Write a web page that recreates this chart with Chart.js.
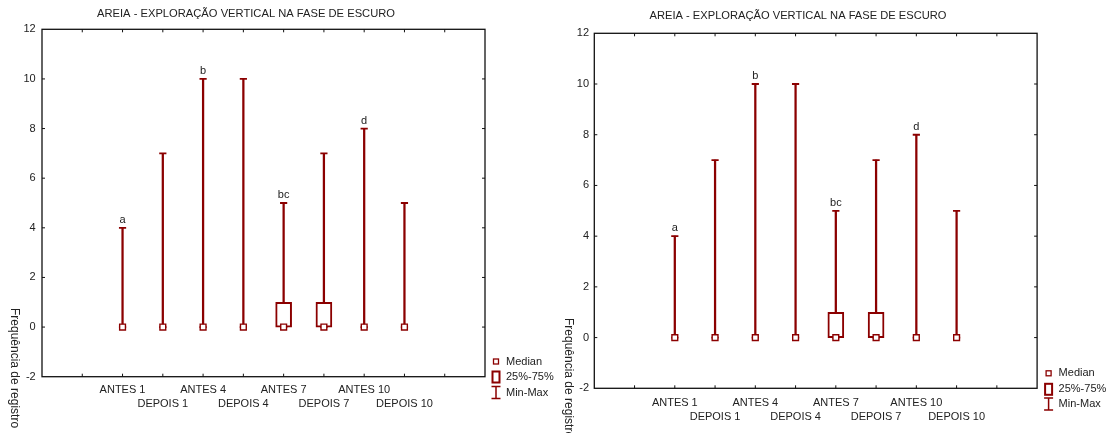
<!DOCTYPE html>
<html>
<head>
<meta charset="utf-8">
<script src="https://cdn.jsdelivr.net/npm/chart.js@4.4.1/dist/chart.umd.min.js"></script>
<style>
  html, body { margin: 0; padding: 0; background: #fff; }
  #wrap { position: relative; width: 1115px; height: 433px; overflow: hidden; }
  .pane { position: absolute; top: 0; }
</style>
</head>
<body>
<div id="wrap">
  <div class="pane" style="left:0px;"><canvas id="c1" width="555" height="433"></canvas></div>
  <div class="pane" style="left:555px;"><canvas id="c2" width="560" height="433"></canvas></div>
</div>
<script>
// ---------- data ----------
const chartTitle = 'AREIA - EXPLORAÇÃO VERTICAL NA FASE DE ESCURO';
const yAxisTitle = 'Frequência de registro';
const categories = ['ANTES 1', 'DEPOIS 1', 'ANTES 4', 'DEPOIS 4', 'ANTES 7', 'DEPOIS 7', 'ANTES 10', 'DEPOIS 10'];
const minVals    = [0, 0, 0, 0, 0, 0, 0, 0];
const maxVals    = [4, 7, 10, 10, 5, 7, 8, 5];
const q1Vals     = [0, 0, 0, 0, 0, 0, 0, 0];
const q3Vals     = [0, 0, 0, 0, 1, 1, 0, 0];
const medianVals = [0, 0, 0, 0, 0, 0, 0, 0];
const groupLetters = ['a', '', 'b', '', 'bc', '', 'd', ''];
const yMin = -2, yMax = 12, yStep = 2;
const legendLabels = ['Median', '25%-75%', 'Min-Max'];

// ---------- helpers ----------
const RED = '#8b0000';
const FONT = "'Liberation Sans', Arial, Helvetica, sans-serif";
const PAD_BEFORE = 2, PAD_AFTER = 2;
function pad(arr) {
  const out = [];
  for (let i = 0; i < PAD_BEFORE; i++) out.push(null);
  arr.forEach(v => out.push(v));
  for (let i = 0; i < PAD_AFTER; i++) out.push(null);
  return out;
}
const axisLabels = pad(categories.map((c, i) => (i % 2 === 0 ? [c, ''] : ['', c]))).map(v => v === null ? '' : v);

function makeChart(canvasId, L) {
  const decor = {
    id: 'decor' + canvasId,
    beforeDatasetsDraw(chart) {
      const ctx = chart.ctx, a = chart.chartArea;
      const xs = chart.scales.x, ys = chart.scales.y;
      ctx.save();
      ctx.strokeStyle = '#111';
      ctx.lineWidth = 1.3;
      ctx.strokeRect(a.left, a.top, a.right - a.left, a.bottom - a.top);
      ctx.lineWidth = 1;
      ctx.beginPath();
      for (let i = 1; i < axisLabels.length - 1; i++) {
        const px = xs.getPixelForValue(i);
        ctx.moveTo(px, a.top); ctx.lineTo(px, a.top + 3);
        ctx.moveTo(px, a.bottom); ctx.lineTo(px, a.bottom - 3);
      }
      for (let v = yMin + yStep; v < yMax; v += yStep) {
        const py = ys.getPixelForValue(v);
        ctx.moveTo(a.left, py); ctx.lineTo(a.left + 3, py);
        ctx.moveTo(a.right, py); ctx.lineTo(a.right - 3, py);
      }
      ctx.stroke();
      ctx.restore();
    },
    afterDraw(chart) {
      const ctx = chart.ctx;
      const xs = chart.scales.x, ys = chart.scales.y;
      ctx.save();
      ctx.fillStyle = '#222';
      // title
      ctx.font = '11.5px ' + FONT;
      ctx.textAlign = 'center';
      ctx.textBaseline = 'middle';
      const w = ctx.measureText(chartTitle).width;
      const sx = L.titleWidth / w;
      ctx.save();
      ctx.translate(L.titleX, L.titleY);
      ctx.scale(sx, 1);
      ctx.fillText(chartTitle, 0, 0);
      ctx.restore();
      // y axis title (rotated clockwise)
      ctx.save();
      ctx.translate(L.yTitleX, L.yTitleY);
      ctx.rotate(Math.PI / 2);
      ctx.textAlign = 'left';
      ctx.textBaseline = 'middle';
      ctx.font = '12px ' + FONT;
      ctx.fillText(yAxisTitle, 0, 0);
      ctx.restore();
      // group letters
      ctx.font = '11px ' + FONT;
      ctx.textAlign = 'center';
      ctx.textBaseline = 'alphabetic';
      groupLetters.forEach((t, i) => {
        if (!t) return;
        const px = xs.getPixelForValue(i + PAD_BEFORE);
        const py = ys.getPixelForValue(maxVals[i]);
        ctx.fillText(t, px, py - 5);
      });
      // legend
      const mx = L.legX, tx = L.legTextX;
      ctx.strokeStyle = RED;
      ctx.lineWidth = 1.3;
      ctx.fillStyle = '#fff';
      ctx.fillRect(mx - 2.5, L.legY[0] - 2.5, 5, 5);
      ctx.strokeRect(mx - 2.5, L.legY[0] - 2.5, 5, 5);
      ctx.lineWidth = 2;
      ctx.strokeRect(mx - 3.5, L.legY[1] - 5.5, 7, 11);
      ctx.lineWidth = 1.5;
      ctx.beginPath();
      ctx.moveTo(mx - 4.5, L.legY[2] - 6); ctx.lineTo(mx + 4.5, L.legY[2] - 6);
      ctx.moveTo(mx, L.legY[2] - 6); ctx.lineTo(mx, L.legY[2] + 6);
      ctx.moveTo(mx - 4.5, L.legY[2] + 6); ctx.lineTo(mx + 4.5, L.legY[2] + 6);
      ctx.stroke();
      ctx.fillStyle = '#222';
      ctx.textAlign = 'left';
      ctx.textBaseline = 'middle';
      ctx.font = '11px ' + FONT;
      legendLabels.forEach((t, i) => ctx.fillText(t, tx, L.legY[i]));
      ctx.restore();
    }
  };

  const boxData = pad(categories.map((c, i) => (q3Vals[i] > q1Vals[i] ? [q1Vals[i], q3Vals[i]] : null)));
  const whiskerData = pad(categories.map((c, i) => [minVals[i], maxVals[i]]));

  return new Chart(document.getElementById(canvasId), {
    type: 'bar',
    data: {
      labels: axisLabels,
      datasets: [
        {
          label: 'Min-Max', type: 'bar', data: whiskerData, grouped: false,
          barThickness: 1.6, backgroundColor: RED, borderWidth: 0, order: 4
        },
        {
          label: '25%-75%', type: 'bar', data: boxData, grouped: false,
          barThickness: 16, backgroundColor: '#fff', borderColor: RED,
          borderWidth: 2, borderSkipped: false, order: 3
        },
        {
          label: 'max', type: 'line', data: pad(maxVals), showLine: false,
          pointStyle: 'line', pointRadius: 3.6, pointBorderWidth: 1.8,
          pointBorderColor: RED, borderColor: RED, order: 2
        },
        {
          label: 'min', type: 'line', data: pad(minVals), showLine: false,
          pointStyle: 'line', pointRadius: 3.6, pointBorderWidth: 1.8,
          pointBorderColor: RED, borderColor: RED, order: 1
        },
        {
          label: 'Median', type: 'line', data: pad(medianVals), showLine: false,
          pointStyle: 'rect', pointRadius: 4.1, pointBorderWidth: 1.4,
          pointBackgroundColor: '#fff', pointBorderColor: RED, borderColor: RED, order: 0
        }
      ]
    },
    options: {
      responsive: false,
      animation: false,
      devicePixelRatio: 1,
      events: [],
      layout: { padding: { top: L.top, right: L.right, left: 0, bottom: 0 } },
      plugins: { legend: { display: false }, title: { display: false }, tooltip: { enabled: false } },
      scales: {
        x: {
          type: 'category',
          offset: false,
          grid: { display: false, offset: false, drawTicks: false },
          border: { display: false },
          ticks: {
            autoSkip: false, maxRotation: 0, minRotation: 0,
            padding: L.xPad, color: '#222',
            font: { family: FONT, size: 11, lineHeight: '14.4px' }
          },
          afterFit(s) { s.height = L.xAxisH; }
        },
        y: {
          min: yMin, max: yMax,
          grid: { display: false, drawTicks: false },
          border: { display: false },
          ticks: { stepSize: yStep, padding: L.yPad, color: '#222', font: { family: FONT, size: 11 } },
          afterFit(s) { s.width = L.yAxisW; }
        }
      }
    },
    plugins: [decor]
  });
}

makeChart('c1', {
  top: 29.3, right: 70, xAxisH: 433 - 376.7, yAxisW: 42, xPad: 6.1, yPad: 6.3,
  titleX: 246, titleY: 14, titleWidth: 298,
  yTitleX: 14, yTitleY: 308,
  legX: 496, legTextX: 506, legY: [361.5, 377, 392.5]
});
makeChart('c2', {
  top: 33.3, right: 560 - 482.1, xAxisH: 433 - 388.3, yAxisW: 39.3, xPad: 7.2, yPad: 5.3,
  titleX: 243, titleY: 16, titleWidth: 297,
  yTitleX: 13.3, yTitleY: 318,
  legX: 493.6, legTextX: 503.6, legY: [373.3, 389.3, 404]
});
</script>
</body>
</html>
